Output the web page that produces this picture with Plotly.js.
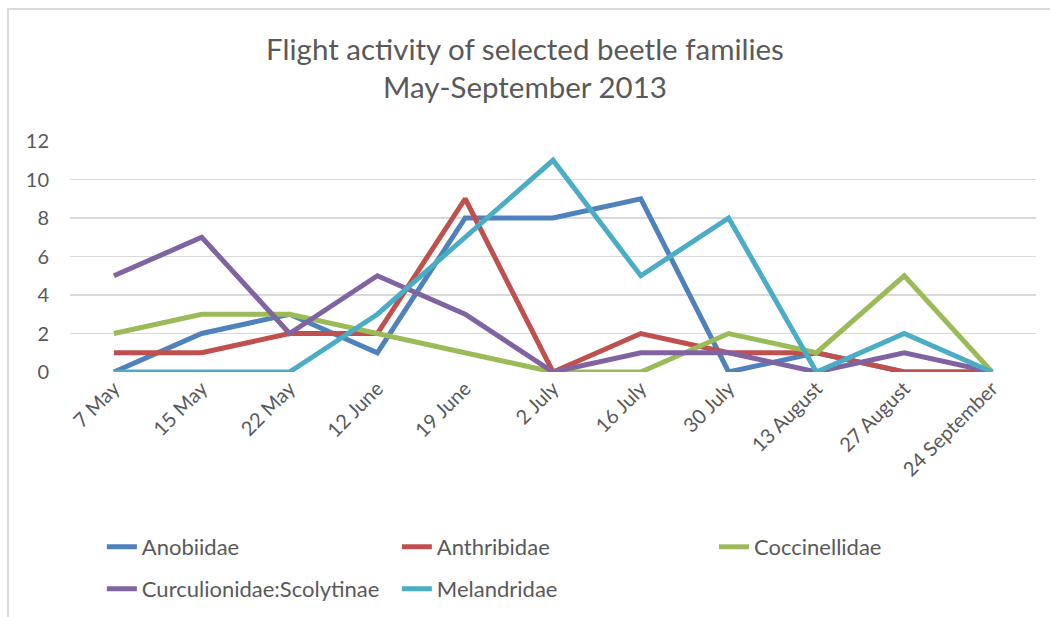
<!DOCTYPE html>
<html>
<head>
<meta charset="utf-8">
<script src="https://cdn.plot.ly/plotly-3.0.1.min.js"></script>
<style>
  html, body { margin: 0; padding: 0; background: #fff; }
  #wrap { position: relative; width: 1050px; height: 617px; overflow: hidden; }
  #chart { width: 1050px; height: 617px; }
  #frame {
    position: absolute; left: 7px; top: 8px; width: 1100px; height: 700px;
    border-left: 2px solid #d9d9d9; border-top: 2px solid #d9d9d9;
    pointer-events: none;
  }
</style>
</head>
<body>
<div id="wrap">
  <div id="chart"></div>
  <div id="frame"></div>
</div>
<script>
// Sampling dates
const dates = ['7 May', '15 May', '22 May', '12 June', '19 June', '2 July',
               '16 July', '30 July', '13 August', '27 August', '24 September'];

// Catches per family on each date
const anobiidae     = [0, 2, 3, 1, 8, 8, 9, 0, 1, 0, 0];
const anthribidae   = [1, 1, 2, 2, 9, 0, 2, 1, 1, 0, 0];
const coccinellidae = [2, 3, 3, 2, 1, 0, 0, 2, 1, 5, 0];
const curculionidae = [5, 7, 2, 5, 3, 0, 1, 1, 0, 1, 0];
const melandridae   = [0, 0, 0, 3, 7, 11, 5, 8, 0, 2, 0];

const seriesNames  = ['Anobiidae', 'Anthribidae', 'Coccinellidae',
                      'Curculionidae:Scolytinae', 'Melandridae'];
const seriesValues = [anobiidae, anthribidae, coccinellidae, curculionidae, melandridae];
const seriesColors = ['#4f81bd', '#c0504d', '#9bbb59', '#8064a2', '#4bacc6'];
// legend: row 1 first two columns, legend3: row 1 third column, legend2: row 2
const legendOf     = ['legend', 'legend', 'legend3', 'legend2', 'legend2'];

const FONT = 'Lato, "Open Sans", sans-serif';
const TEXT = '#595959';

const traces = seriesNames.map((name, i) => ({
  type: 'scatter',
  mode: 'lines',
  name: name,
  x: dates,
  y: seriesValues[i],
  line: { color: seriesColors[i], width: 5 },
  legend: legendOf[i],
  hoverinfo: 'x+y+name'
}));

const legendStyle = {
  orientation: 'h',
  xref: 'container', yref: 'container',
  x: 0.097, xanchor: 'left',
  yanchor: 'middle',
  entrywidth: 250, entrywidthmode: 'pixels',
  itemwidth: 30,
  font: { family: FONT, size: 22, color: TEXT },
  bgcolor: 'rgba(0,0,0,0)',
  traceorder: 'normal'
};

const layout = {
  width: 1050,
  height: 617,
  paper_bgcolor: '#ffffff',
  plot_bgcolor: '#ffffff',
  margin: { l: 70, r: 14, t: 141, b: 245, pad: 0 },
  font: { family: FONT, color: TEXT },
  title: {
    text: 'Flight activity of selected beetle families<br>May-September 2013',
    x: 0.5, xanchor: 'center',
    xref: 'container',
    y: 0.903, yanchor: 'top', yref: 'container',
    font: { family: FONT, size: 29.5, color: TEXT }
  },
  xaxis: {
    type: 'category',
    categoryorder: 'array',
    categoryarray: dates,
    range: [-0.5, dates.length - 0.5],
    tickangle: -45,
    showgrid: false,
    zeroline: false,
    showline: false,
    ticks: '',
    tickfont: { family: FONT, size: 20, color: TEXT },
    fixedrange: true
  },
  yaxis: {
    range: [0, 12],
    tickvals: [0, 2, 4, 6, 8, 10, 12],
    showgrid: true,
    gridcolor: '#d9d9d9',
    gridwidth: 1.5,
    zeroline: false,
    showline: false,
    ticks: '',
    ticklabelstandoff: 20,
    tickfont: { family: FONT, size: 20, color: TEXT },
    fixedrange: true
  },
  legend:  Object.assign({}, legendStyle, { y: 1 - 547 / 617 }),
  legend2: Object.assign({}, legendStyle, { y: 1 - 589 / 617 }),
  legend3: Object.assign({}, legendStyle, { x: 0.680, y: 1 - 547 / 617 }),
  showlegend: true
};

Plotly.newPlot('chart', traces, layout, { displayModeBar: false, staticPlot: true });
</script>
</body>
</html>
